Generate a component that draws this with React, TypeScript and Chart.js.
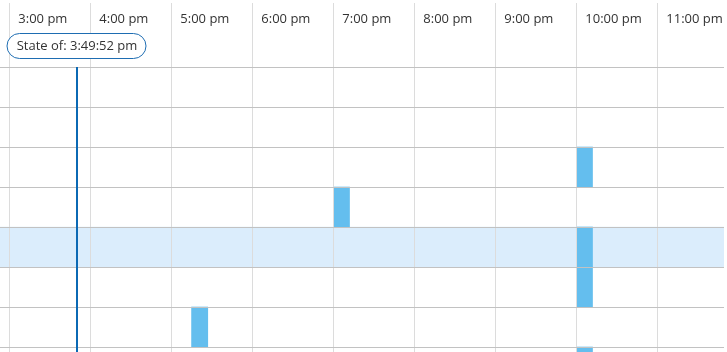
import { useEffect, useRef } from 'react';
import { Chart, registerables } from 'chart.js';

Chart.register(...registerables);

// Rows of the timeline (top to bottom)
const rowLabels = ['Row 1', 'Row 2', 'Row 3', 'Row 4', 'Row 5', 'Row 6', 'Row 7', 'Row 8'];
// Hour ticks, minutes since midnight (3:00 pm ... 11:00 pm)
const hourTicks = [900, 960, 1020, 1080, 1140, 1200, 1260, 1320, 1380];
// Events: row, start and end (minutes since midnight)
const eventRows = ['Row 3', 'Row 4', 'Row 5', 'Row 6', 'Row 7', 'Row 8'];
const eventStarts = [1320, 1140, 1320, 1320, 1035, 1320];
const eventEnds = [1332, 1152, 1332, 1332, 1047, 1332];
// Highlighted row
const highlightedRow = 'Row 5';
// Visible time window (minutes since midnight)
const viewStart = 893.1;
const viewEnd = 1429.4;
// Current "state of" time: 3:49:52 pm
const stateTime = 949.87;
const stateLabel = 'State of: 3:49:52 pm';

const FONT = '"Open Sans", "DejaVu Sans", sans-serif';

function formatHour(min: number): string {
  const h = Math.floor(min / 60);
  const h12 = h % 12 === 0 ? 12 : h % 12;
  const suffix = h >= 12 ? 'pm' : 'am';
  return `${h12}:00 ${suffix}`;
}

const stateMarker = {
  id: 'stateMarker',
  afterDraw(chart: any) {
    const { ctx, chartArea, scales } = chart;
    const px = Math.round(scales.x.getPixelForValue(stateTime));
    ctx.save();
    ctx.strokeStyle = '#0b69b4';
    ctx.lineWidth = 2;
    ctx.beginPath();
    ctx.moveTo(px, chartArea.top);
    ctx.lineTo(px, chartArea.bottom);
    ctx.stroke();

    ctx.font = `13px ${FONT}`;
    const tw = ctx.measureText(stateLabel).width;
    const w = Math.round(tw + 18);
    const h = 25;
    const left = px - w / 2 - 0.5;
    const top = 33.5;
    ctx.beginPath();
    ctx.roundRect(left, top, w, h, h / 2);
    ctx.fillStyle = '#ffffff';
    ctx.fill();
    ctx.lineWidth = 1;
    ctx.strokeStyle = '#1e6db2';
    ctx.stroke();
    ctx.fillStyle = '#333333';
    ctx.textAlign = 'center';
    ctx.textBaseline = 'middle';
    ctx.fillText(stateLabel, px, top + h / 2);
    ctx.restore();
  },
};

export default function App() {
  const canvasRef = useRef<HTMLCanvasElement | null>(null);

  useEffect(() => {
    const canvas = canvasRef.current;
    if (!canvas) return;
    Chart.defaults.font.family = FONT;

    const chart = new Chart(canvas, {
      type: 'bar',
      data: {
        labels: rowLabels,
        datasets: [
          {
            label: 'Highlight',
            data: [{ x: [viewStart, viewEnd], y: highlightedRow }] as any,
            backgroundColor: '#dbedfc',
            barPercentage: 1,
            categoryPercentage: 1,
            grouped: false,
            order: 2,
          },
          {
            label: 'Events',
            data: eventRows.map((r, i) => ({ x: [eventStarts[i], eventEnds[i]], y: r })) as any,
            backgroundColor: '#64beee',
            barPercentage: 1,
            categoryPercentage: 1,
            grouped: false,
            order: 1,
          },
        ],
      },
      options: {
        indexAxis: 'y',
        animation: false,
        responsive: false,
        devicePixelRatio: 1,
        layout: { padding: { top: 0, right: 3, bottom: 0, left: 0 } },
        plugins: {
          legend: { display: false },
          tooltip: { enabled: false },
        },
        scales: {
          x: {
            type: 'linear',
            position: 'top',
            min: viewStart,
            max: viewEnd,
            afterBuildTicks: (scale: any) => {
              scale.ticks = hourTicks.map((v) => ({ value: v }));
            },
            afterFit: (scale: any) => {
              scale.height = 67;
            },
            grid: {
              color: '#dcdcdc',
              tickColor: '#dcdcdc',
              tickLength: 64,
              drawTicks: true,
              z: 1,
            },
            border: { display: false },
            ticks: {
              align: 'start',
              labelOffset: 9,
              padding: -24,
              color: '#333333',
              font: { size: 13, family: FONT },
              maxRotation: 0,
              autoSkip: false,
              callback: (v: any) => formatHour(Number(v)),
            },
          },
          y: {
            type: 'category',
            offset: true,
            grid: {
              color: '#c2c2c2',
              offset: true,
              drawTicks: false,
              z: 1,
            },
            border: { display: false },
            ticks: { display: false },
          },
        },
      },
      plugins: [stateMarker],
    });
    return () => chart.destroy();
  }, []);

  return (
    <div
      style={{
        position: 'fixed',
        top: 0,
        left: 0,
        width: 727,
        height: 352,
        overflow: 'hidden',
        background: '#ffffff',
      }}
    >
      <canvas ref={canvasRef} width={727} height={387} style={{ display: 'block', width: 727, height: 387 }} />
    </div>
  );
}
